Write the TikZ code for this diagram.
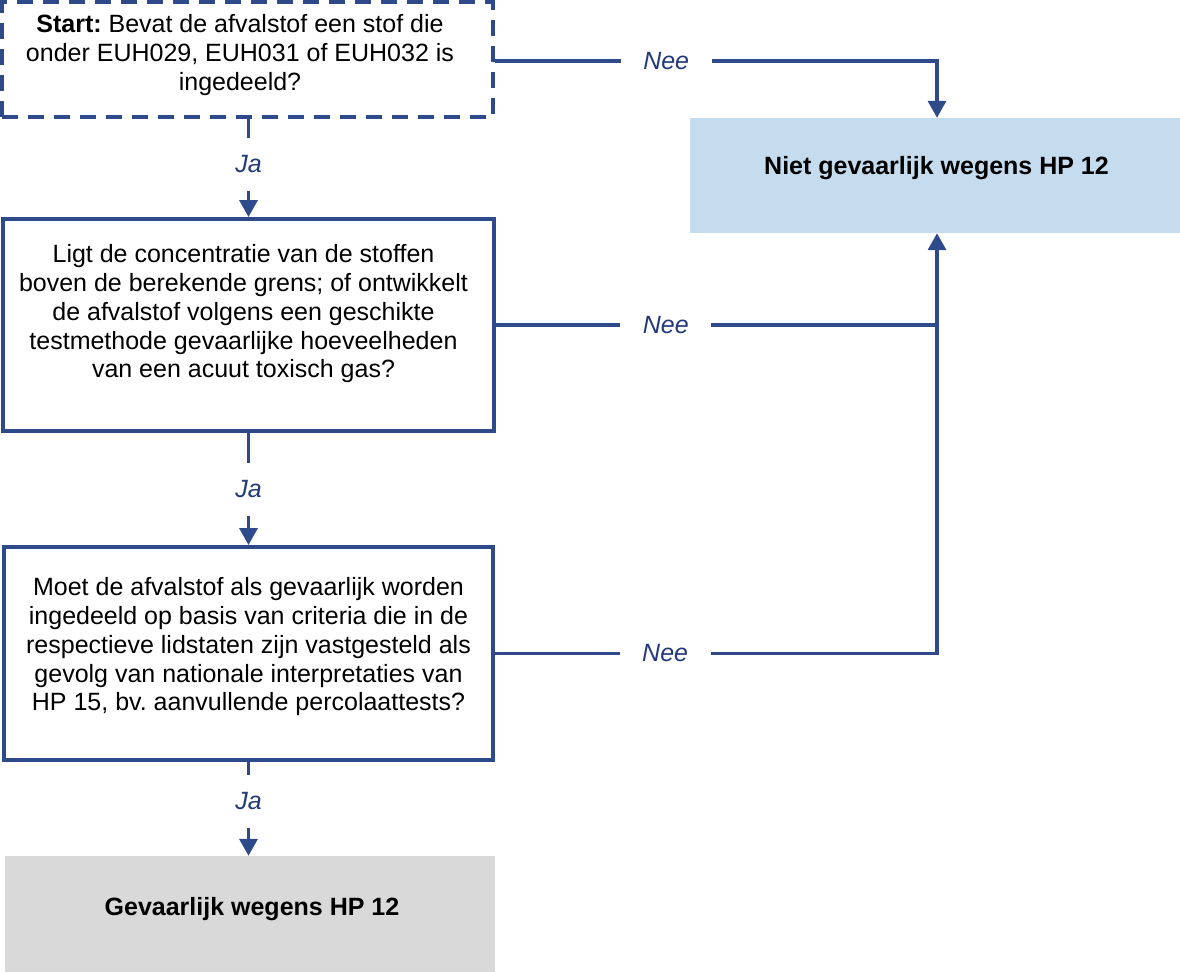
\documentclass[tikz,border=0pt]{standalone}
\usepackage{fontspec}
\setmainfont{Liberation Sans}
\usetikzlibrary{arrows.meta}
\frenchspacing
\definecolor{navy}{HTML}{2E4A8A}
\definecolor{lblue}{HTML}{C5DCEF}
\definecolor{lgray}{HTML}{D9D9D9}
\definecolor{lbltxt}{HTML}{233A7A}
\tikzset{
  qbox/.style={draw=navy, line width=4pt, rectangle, inner sep=0pt},
  dashbox/.style={qbox, line width=4.5pt, dash pattern=on 16pt off 10pt},
  fillbox/.style={rectangle, inner sep=0pt, draw=none},
  qtext/.style={align=center, inner sep=0pt, font=\fontsize{25}{28.75}\selectfont},
  btext/.style={inner sep=0pt, font=\fontsize{25}{28.75}\selectfont\bfseries},
  conn/.style={draw=navy, line width=3.5pt},
  arr/.style={conn, -{Triangle[length=17pt,width=18pt]}},
  lblh/.style={fill=white, text=lbltxt, inner sep=0pt, minimum width=91pt, minimum height=20pt, font=\fontsize{25}{28.75}\selectfont\itshape},
  lblv/.style={fill=white, text=lbltxt, inner sep=0pt, minimum width=36pt, minimum height=53pt, font=\fontsize{25}{28.75}\selectfont\itshape}
}
\begin{document}
\begin{tikzpicture}[x=1pt, y=-1pt]
\useasboundingbox (0,0) rectangle (1180,972);
% boxes
\node[dashbox, minimum width=491pt, minimum height=115pt] (start) at (247.5,59.5) {};
\node[qbox, minimum width=491pt, minimum height=212pt] (q2) at (248.5,325) {};
\node[qbox, minimum width=489pt, minimum height=213pt] (q3) at (248.5,653.5) {};
\node[fillbox, fill=lblue, minimum width=490pt, minimum height=115pt] (niet) at (935,175.5) {};
\node[fillbox, fill=lgray, minimum width=490pt, minimum height=116pt] (gev) at (250,914) {};
% texts
\node[qtext] (starttext) at (240,55) {\textbf{Start:} Bevat de afvalstof een stof die\\onder EUH029, EUH031 of EUH032 is\\ingedeeld?};
\node[qtext] (q2text) at (243.5,314) {Ligt de concentratie van de stoffen\\boven de berekende grens; of ontwikkelt\\de afvalstof volgens een geschikte\\testmethode gevaarlijke hoeveelheden\\van een acuut toxisch gas?};
\node[qtext] (q3text) at (248.5,647) {Moet de afvalstof als gevaarlijk worden\\ingedeeld op basis van criteria die in de\\respectieve lidstaten zijn vastgesteld als\\gevolg van nationale interpretaties van\\HP 15, bv. aanvullende percolaattests?};
\node[btext] (niettext) at (936.5,168.5) {Niet gevaarlijk wegens HP 12};
\node[btext] (gevtext) at (252,909) {Gevaarlijk wegens HP 12};
% rail coordinate
\coordinate (rail) at (937,61);
% Nee connectors
\draw[arr] (start.east |- rail) -- node[lblh, pos=0.387] (nee1) {Nee} (rail) -- (rail |- niet.north);
\draw[conn] (q2.east) -- node[lblh, pos=0.385] (nee2) {Nee} (q2.east -| rail);
\draw[arr] (q3.east) -- node[lblh, pos=0.385] (nee3) {Nee} (q3.east -| rail) -- (rail |- niet.south);
% Ja connectors
\draw[arr] (q2.north |- start.south) -- node[lblv, pos=0.46] (ja1) {Ja} (q2.north);
\draw[arr] (q2.south) -- node[lblv, pos=0.5] (ja2) {Ja} (q3.north);
\draw[arr] (q3.south) -- node[lblv, pos=0.42] (ja3) {Ja} (q3.south |- gev.north);
\end{tikzpicture}
\end{document}
